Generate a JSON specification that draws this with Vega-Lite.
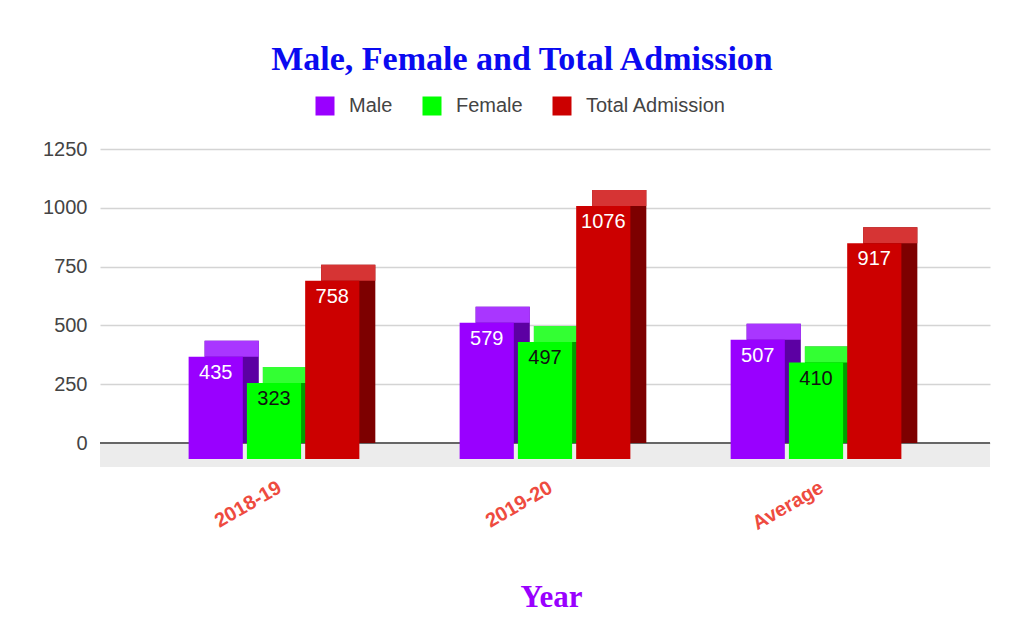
{
  "$schema": "https://vega.github.io/schema/vega-lite/v6.json",
  "autosize": {"type": "none"},
  "padding": {"left": 100, "top": 149, "right": 38, "bottom": 201},
  "width": 890,
  "height": 294,
  "background": "white",
  "title": {
    "text": "Male, Female and Total Admission",
    "font": "Liberation Serif",
    "fontSize": 34,
    "fontWeight": "bold",
    "color": "#0a0af0",
    "anchor": "middle",
    "frame": "group",
    "baseline": "alphabetic",
    "offset": 25,
    "dx": -23,
    "dy": 33
  },
  "data": {
    "values": [
      {"year": "2018-19", "series": "Male", "value": 435},
      {"year": "2018-19", "series": "Female", "value": 323},
      {"year": "2018-19", "series": "Total Admission", "value": 758},
      {"year": "2019-20", "series": "Male", "value": 579},
      {"year": "2019-20", "series": "Female", "value": 497},
      {"year": "2019-20", "series": "Total Admission", "value": 1076},
      {"year": "Average", "series": "Male", "value": 507},
      {"year": "Average", "series": "Female", "value": 410},
      {"year": "Average", "series": "Total Admission", "value": 917}
    ]
  },
  "layer": [
    {
      "mark": {"type": "rule", "color": "#ececec", "strokeWidth": 24, "yOffset": 12},
      "encoding": {
        "y": {
          "datum": 0,
          "type": "quantitative",
          "scale": {"domain": [0, 1250], "nice": false},
          "axis": {
            "title": null,
            "values": [0, 250, 500, 750, 1000, 1250],
            "format": "d",
            "labelFont": "Liberation Sans",
            "labelFontSize": 20,
            "labelColor": "#444444",
            "labelPadding": 13,
            "domain": false,
            "ticks": false,
            "grid": true,
            "gridColor": "#d4d4d4",
            "gridWidth": 1.5
          }
        }
      }
    },
    {
      "mark": {"type": "rule", "color": "#666666", "strokeWidth": 2},
      "encoding": {"y": {"datum": 0, "type": "quantitative"}}
    },
    {
      "mark": {"type": "bar"},
      "encoding": {
        "x": {"field": "year", "type": "nominal", "sort": ["2018-19", "2019-20", "Average"], "scale": {"paddingInner": 0.37, "paddingOuter": 0.327}},
        "y": {"field": "value", "type": "quantitative"},
        "xOffset": {
          "field": "series",
          "sort": ["Male", "Female", "Total Admission"],
          "scale": {"type": "band", "range": [16, 186.7], "paddingInner": 0.07, "paddingOuter": 0}
        },
        "color": {
          "field": "series",
          "scale": {"domain": ["Male", "Female", "Total Admission"], "range": ["#5c00a3", "#00a000", "#7d0000"]},
          "legend": null
        }
      }
    },
    {
      "mark": {"type": "bar", "y2Offset": 16},
      "encoding": {
        "x": {"field": "year", "type": "nominal", "sort": ["2018-19", "2019-20", "Average"]},
        "y": {"field": "value", "type": "quantitative"},
        "xOffset": {
          "field": "series",
          "sort": ["Male", "Female", "Total Admission"],
          "scale": {"type": "band", "range": [16, 186.7], "paddingInner": 0.07, "paddingOuter": 0}
        },
        "y2": {"field": "value"},
        "color": {
          "field": "series",
          "scale": {"domain": ["Male", "Female", "Total Admission"], "range": ["#a936ff", "#33ff33", "#d63434"]},
          "legend": null
        }
      }
    },
    {
      "mark": {"type": "bar", "yOffset": 16, "y2Offset": 16},
      "encoding": {
        "x": {
          "field": "year",
          "type": "nominal",
          "sort": ["2018-19", "2019-20", "Average"],
          "axis": {
            "title": "Year",
            "titleFont": "Liberation Serif",
            "titleFontSize": 31,
            "titleFontWeight": "bold",
            "titleColor": "#9900ff",
            "titleBaseline": "alphabetic",
            "titleX": 451,
            "titleY": 163,
            "labelAngle": -30,
            "labelAlign": "right",
            "labelBaseline": "top",
            "labelPadding": 34,
            "labelOffset": 1,
            "labelFont": "Liberation Sans",
            "labelFontSize": 20,
            "labelFontWeight": "bold",
            "labelColor": "#ee4b3f",
            "domain": false,
            "ticks": false,
            "grid": false
          }
        },
        "y": {"field": "value", "type": "quantitative"},
        "xOffset": {
          "field": "series",
          "sort": ["Male", "Female", "Total Admission"],
          "scale": {"type": "band", "paddingInner": 0.07, "paddingOuter": 0}
        },
        "y2": {"datum": 0},
        "color": {
          "field": "series",
          "title": null,
          "sort": ["Male", "Female", "Total Admission"],
          "scale": {"domain": ["Male", "Female", "Total Admission"], "range": ["#9900ff", "#00ff00", "#cc0000"]},
          "legend": {
            "orient": "none",
            "direction": "horizontal",
            "legendX": 215,
            "legendY": -53,
            "padding": 0,
            "symbolType": "square",
            "symbolSize": 361,
            "symbolStrokeWidth": 0,
            "labelFont": "Liberation Sans",
            "labelFontSize": 20,
            "labelColor": "#444444",
            "labelOffset": 14,
            "columnPadding": 29
          }
        }
      }
    },
    {
      "mark": {"type": "text", "dy": 32, "baseline": "middle", "font": "Liberation Sans", "fontSize": 20},
      "encoding": {
        "x": {"field": "year", "type": "nominal", "sort": ["2018-19", "2019-20", "Average"]},
        "y": {"field": "value", "type": "quantitative"},
        "xOffset": {
          "field": "series",
          "sort": ["Male", "Female", "Total Admission"],
          "scale": {"type": "band", "paddingInner": 0.07, "paddingOuter": 0}
        },
        "text": {"field": "value"},
        "color": {
          "condition": {"test": "datum.series === 'Female'", "value": "#111111"},
          "value": "#ffffff"
        }
      }
    }
  ],
  "resolve": {"scale": {"xOffset": "independent", "color": "independent"}},
  "config": {"view": {"stroke": null}}
}
